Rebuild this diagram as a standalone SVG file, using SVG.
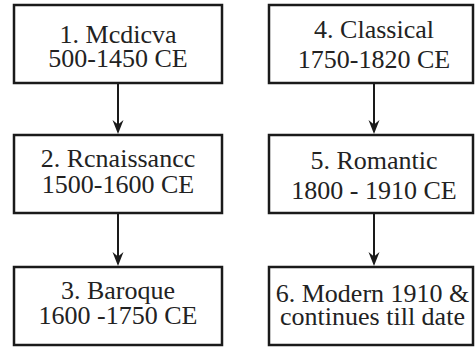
<svg xmlns="http://www.w3.org/2000/svg" width="475" height="347" viewBox="0 0 475 347">
<style>
.box{fill:#fff;stroke:#1a1a1a;stroke-width:2.5}
.c{stroke:#1a1a1a;stroke-width:2;fill:none}
.h{fill:#1a1a1a}
text{font-family:'Liberation Serif','Times New Roman',serif;font-size:26px;fill:#222;text-anchor:middle}
</style>
<rect width="475" height="347" fill="#fff"/>
<g id="connectors">
<line class="c" x1="118" y1="83" x2="118" y2="128"/>
<path class="h" d="M118,134 L112.5,120 L118,124.5 L123.5,120 Z"/>
<line class="c" x1="118" y1="213" x2="118" y2="260"/>
<path class="h" d="M118,266 L112.5,252 L118,256.5 L123.5,252 Z"/>
<line class="c" x1="374" y1="83" x2="374" y2="128"/>
<path class="h" d="M374,134 L368.5,120 L374,124.5 L379.5,120 Z"/>
<line class="c" x1="374" y1="213" x2="374" y2="260"/>
<path class="h" d="M374,266 L368.5,252 L374,256.5 L379.5,252 Z"/>
</g>
<g id="n1">
<rect class="box" x="14" y="5" width="208" height="78"/>
<text x="118" y="42.5">1. Mcdicva</text>
<text x="118" y="67">500-1450 CE</text>
</g>
<g id="n2">
<rect class="box" x="14" y="135" width="208" height="78"/>
<text x="118" y="166.5">2. Rcnaissancc</text>
<text x="118" y="193">1500-1600 CE</text>
</g>
<g id="n3">
<rect class="box" x="14" y="267" width="208" height="78"/>
<text x="118" y="298.5">3. Baroque</text>
<text x="118" y="324">1600 -1750 CE</text>
</g>
<g id="n4">
<rect class="box" x="269" y="5" width="204" height="78"/>
<text x="374" y="37.5">4. Classical</text>
<text x="374" y="68">1750-1820 CE</text>
</g>
<g id="n5">
<rect class="box" x="269" y="135" width="204" height="78"/>
<text x="374" y="169">5. Romantic</text>
<text x="374" y="199">1800 - 1910 CE</text>
</g>
<g id="n6">
<rect class="box" x="269" y="267" width="204" height="78"/>
<text x="372.5" y="301.5">6. Modern 1910 &amp;</text>
<text x="372.5" y="325">continues till date</text>
</g>
</svg>
